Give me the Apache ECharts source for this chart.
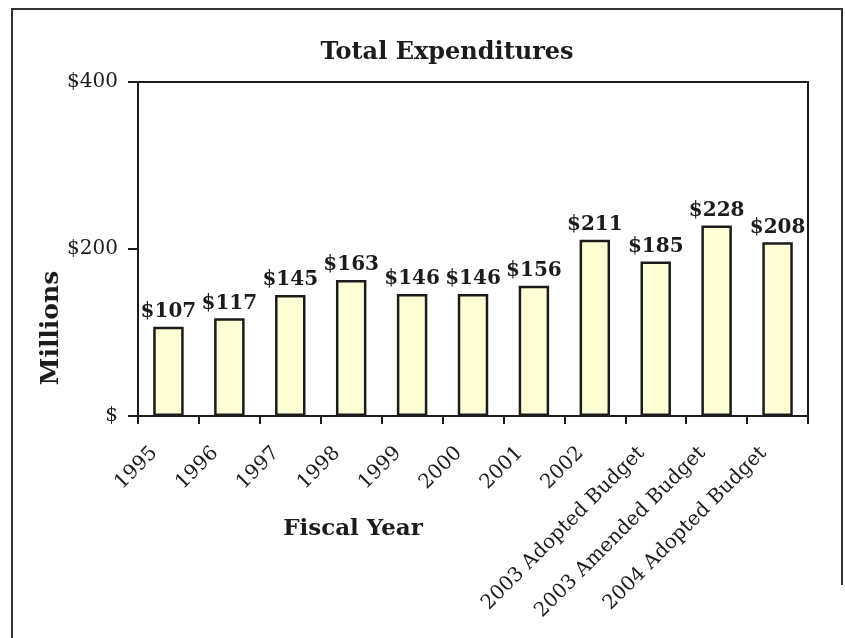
<!DOCTYPE html>
<html>
<head>
<meta charset="utf-8">
<script src="https://cdn.jsdelivr.net/npm/echarts@6/dist/echarts.min.js"></script>
<style>
  html, body { margin: 0; padding: 0; background: #ffffff; }
  #chart { width: 845px; height: 638px; }
</style>
</head>
<body>
<div id="chart"></div>
<script>
// Fiscal years and total expenditures (millions of dollars)
const categories = [
  '1995', '1996', '1997', '1998', '1999', '2000', '2001', '2002',
  '2003 Adopted Budget', '2003 Amended Budget', '2004 Adopted Budget'
];
const expenditures = [107, 117, 145, 163, 146, 146, 156, 211, 185, 228, 208];
const yTicks = [0, 200, 400];

const serif = '"DejaVu Serif", "Liberation Serif", serif';
const ink = '#1c1c1c';

const chart = echarts.init(document.getElementById('chart'), null, { renderer: 'canvas' });

chart.setOption({
  backgroundColor: '#ffffff',
  animation: false,
  title: {
    text: 'Total Expenditures',
    left: 442,
    top: 36,
    textAlign: 'center',
    textStyle: { fontFamily: serif, fontWeight: 'bold', fontSize: 24, color: ink }
  },
  grid: {
    left: 138, right: 37, top: 82, bottom: 222,
    show: true, borderColor: ink, borderWidth: 2, backgroundColor: 'transparent'
  },
  xAxis: {
    type: 'category',
    data: categories,
    axisLine: { show: true, lineStyle: { color: ink, width: 2 } },
    axisTick: { show: true, alignWithLabel: false, length: 8, lineStyle: { color: ink, width: 2 } },
    axisLabel: {
      interval: 0,
      rotate: 45,
      margin: 20,
      padding: [0, 20, 0, 0],
      fontFamily: serif,
      fontSize: 20,
      color: ink
    }
  },
  yAxis: {
    type: 'value',
    min: yTicks[0],
    max: yTicks[yTicks.length - 1],
    interval: yTicks[1] - yTicks[0],
    axisLine: { show: true, lineStyle: { color: ink, width: 2 } },
    axisTick: { show: true, length: 10, lineStyle: { color: ink, width: 2 } },
    splitLine: { show: false },
    axisLabel: {
      margin: 20,
      fontFamily: serif,
      fontSize: 20,
      color: ink,
      formatter: v => (v === 0 ? '$' : '$' + v)
    }
  },
  series: [{
    type: 'bar',
    data: expenditures,
    barWidth: '50%',
    itemStyle: { color: '#FFFFD6', borderColor: ink, borderWidth: 2.5 },
    label: {
      show: true,
      position: 'top',
      distance: 5,
      fontFamily: serif,
      fontWeight: 'bold',
      fontSize: 20,
      color: ink,
      formatter: p => '$' + p.value
    }
  }],
  graphic: [
    {
      // page frame around the chart
      type: 'polyline',
      shape: { points: [[12, 640], [12, 9], [842, 9], [842, 585]] },
      style: { stroke: '#333333', lineWidth: 2, fill: null },
      silent: true
    },
    {
      type: 'text',
      x: 353, y: 529,
      style: {
        text: 'Fiscal Year',
        fontFamily: serif, fontWeight: 'bold', fontSize: 23,
        fill: ink, textAlign: 'center', textVerticalAlign: 'middle'
      }
    },
    {
      type: 'text',
      x: 51, y: 328,
      rotation: Math.PI / 2,
      style: {
        text: 'Millions',
        fontFamily: serif, fontWeight: 'bold', fontSize: 25,
        fill: ink, textAlign: 'center', textVerticalAlign: 'middle'
      }
    }
  ]
});
</script>
</body>
</html>
